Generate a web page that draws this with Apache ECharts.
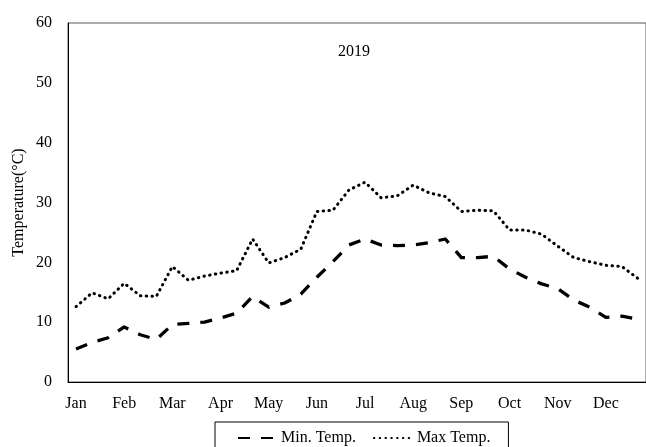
<!DOCTYPE html>
<html>
<head>
<meta charset="utf-8">
<script src="https://cdn.jsdelivr.net/npm/echarts@6/dist/echarts.min.js"></script>
<style>
html,body{margin:0;padding:0;background:#fff;}
#chart{width:646px;height:447px;}
</style>
</head>
<body>
<div id="chart"></div>
<script>
// Tick labels (months) and dekads per month
const months = ['Jan','Feb','Mar','Apr','May','Jun','Jul','Aug','Sep','Oct','Nov','Dec'];
const dekads = ['1','2','3'];
// Series values (°C), one per dekad
const minTemp = [5.5,6.6,7.4,9.2,7.9,7.1,9.6,9.8,10.0,10.7,11.5,14.3,12.5,13.2,14.7,17.5,20.1,22.9,23.9,22.9,22.8,22.9,23.3,23.9,20.8,20.8,21.0,18.9,17.5,16.4,15.6,13.7,12.5,10.8,11.0,10.5];
const maxTemp = [12.6,14.9,13.9,16.5,14.4,14.3,19.3,17.0,17.7,18.2,18.6,23.9,19.9,20.8,22.2,28.5,28.7,32.1,33.4,30.8,31.1,32.9,31.6,31.0,28.5,28.7,28.6,25.4,25.4,24.7,22.7,20.8,20.1,19.5,19.3,17.3];
const seriesNames = ['Min. Temp.','Max Temp.'];
const titleText = '2019';
const yName = 'Temperature(°C)';

const categories = [];
months.forEach(m => dekads.forEach(d => categories.push(m + '-' + d)));

const FONT = 'Liberation Serif';
const FS = 16;
const chart = echarts.init(document.getElementById('chart'), null, {renderer:'canvas'});
chart.setOption({
  animation: false,
  backgroundColor: '#fff',
  title: {
    text: titleText, left: 333, top: 39,
    textStyle: {fontFamily: FONT, fontSize: FS, fontWeight: 'normal', color: '#000'}
  },
  grid: {
    left: 68, right: -6, top: 23, bottom: 65, show: true,
    borderColor: '#595959', borderWidth: 1, backgroundColor: 'transparent'
  },
  legend: {
    data: seriesNames,
    left: 215, top: 422,
    padding: [8, 18, 12, 22],
    itemGap: 17, itemWidth: 38, itemHeight: 14,
    borderColor: '#000', borderWidth: 1,
    itemStyle: {opacity: 0},
    textStyle: {fontFamily: FONT, fontSize: FS, color: '#000'}
  },
  xAxis: {
    type: 'category', data: categories, boundaryGap: true,
    axisLine: {lineStyle: {color: '#000', width: 1}},
    axisTick: {show: false},
    axisLabel: {
      interval: 2, margin: 14, color: '#000', fontFamily: FONT, fontSize: FS,
      formatter: v => v.split('-')[0]
    },
    splitLine: {show: false}
  },
  yAxis: {
    type: 'value', min: 0, max: 60, interval: 10,
    name: yName, nameLocation: 'middle', nameRotate: 90, nameGap: 41,
    nameMoveOverlap: false,
    nameTextStyle: {fontFamily: FONT, fontSize: FS, color: '#000'},
    axisLine: {show: true, lineStyle: {color: '#000', width: 1}},
    axisTick: {show: false},
    axisLabel: {margin: 16, color: '#000', fontFamily: FONT, fontSize: FS},
    splitLine: {show: false}
  },
  series: [
    {
      name: seriesNames[0], type: 'line', data: minTemp, symbol: 'none', smooth: false,
      lineStyle: {color: '#000', width: 3.3, type: [12, 11], cap: 'butt', join: 'round'},
      itemStyle: {color: '#000'}
    },
    {
      name: seriesNames[1], type: 'line', data: maxTemp, symbol: 'none', smooth: false,
      lineStyle: {color: '#000', width: 3, type: [0.5, 5.3], cap: 'round', join: 'round'},
      itemStyle: {color: '#000'}
    }
  ]
});
</script>
</body>
</html>
